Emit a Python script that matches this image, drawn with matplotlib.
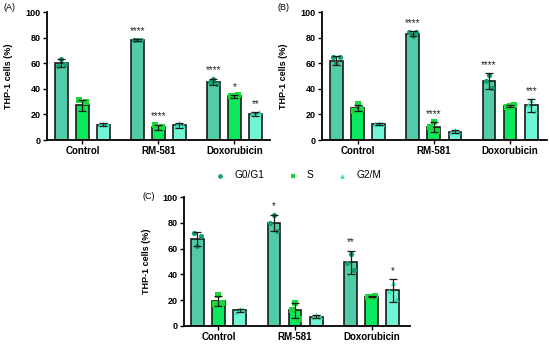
import matplotlib
matplotlib.use('Agg')
import matplotlib.pyplot as plt
import numpy as np

plt.rcParams['font.family'] = ['Liberation Sans', 'DejaVu Sans']

groups = ['Control', 'RM-581', 'Doxorubicin']
phases = ['G0/G1', 'S', 'G2/M']
yticks = [0, 20, 40, 60, 80, 100]

# rows = phase (G0/G1, S, G2/M); columns = group (Control, RM-581, Doxorubicin)
a_mean = [[60, 78, 45.5], [27, 10, 34], [12, 11.5, 20]]
a_err = [[3, 1, 2.5], [4, 2, 1], [1, 2, 1.5]]
a_pts = [[[58, 63, 59], [78, 78.5, 78.5], [45, 47.5, 44]],
         [[31, 24, 30], [12, 9, 10], [34, 34, 35]],
         [[12.5, 12.5, 12.5], [11, 13, 11], [21, 20, 21.5]]]
a_sig = [['', '****', '****'], ['', '****', '*'], ['', '', '**']]

b_mean = [[62, 83, 46], [25, 10, 26.5], [12.5, 6.5, 27]]
b_err = [[3.5, 2, 6], [2.5, 4, 1], [0.8, 1, 5]]
b_pts = [[[65, 60, 65], [84, 81, 84], [46, 51, 41]],
         [[23, 28, 24], [10, 14, 7], [26, 26.5, 27.5]],
         [[12.5, 13, 12.5], [6, 8, 6], [27, 31, 23]]]
b_sig = [['', '****', '****'], ['', '****', ''], ['', '', '***']]

c_mean = [[67.5, 80, 49.5], [19.5, 12, 22.5], [12, 7, 27.5]]
c_err = [[5.5, 6.5, 9], [4, 6, 0.5], [1, 1, 9]]
c_pts = [[[72, 62, 70], [80, 86, 74], [49, 56, 43]],
         [[17, 24, 18], [12, 18, 5], [22.5, 22.5, 23]],
         [[11, 13, 12], [6.5, 8, 6.5], [27, 33, 21]]]
c_sig = [['', '*', '**'], ['', '', ''], ['', '', '*']]

bar_colors = ['#52CCA8', '#0AE85E', '#70F5D5']
pt_colors = ['#139E6E', '#17D93A', '#3ADDB4']
markers = ['o', 's', '^']
offsets = [-0.276, 0.0, 0.276]
width = 0.167
jit = np.array([-0.045, 0.0, 0.045])
edge = '#1a1a1a'

W, H = 550, 346
fig = plt.figure(figsize=(5.5, 3.46), dpi=100)


def make_ax(left, right, top, bottom):
    return fig.add_axes([left / W, 1 - bottom / H, (right - left) / W, (bottom - top) / H])


def panel(ax, mean, err, pts, sig, xlim, lab_off):
    x = np.arange(len(groups))
    for i, ph in enumerate(phases):
        xi = x + offsets[i]
        ax.bar(xi, mean[i], width, color=bar_colors[i], edgecolor=edge, linewidth=1.2, zorder=2)
        for g in range(len(groups)):
            ax.scatter(xi[g] + jit, pts[i][g], s=14, marker=markers[i], color=pt_colors[i],
                       linewidths=0, zorder=3, label=ph if g == 0 else None)
            if sig[i][g]:
                ax.text(xi[g], mean[i][g] + err[i][g] + 2.5, sig[i][g], ha='center', va='bottom',
                        fontsize=7, color='#222222')
        ax.errorbar(xi, mean[i], yerr=err[i], fmt='none', ecolor=edge, elinewidth=0.9,
                    capsize=2.8, capthick=0.9, zorder=4)
    ax.set_xlim(*xlim)
    ax.set_ylim(0, 100)
    ax.set_yticks(yticks)
    ax.set_yticklabels([str(v) for v in yticks], fontsize=6.5, fontweight='bold')
    ax.set_xticks(x)
    ax.set_xticklabels(groups, fontsize=7, fontweight='bold')
    for s in ['top', 'right']:
        ax.spines[s].set_visible(False)
    for s in ['left', 'bottom']:
        ax.spines[s].set_linewidth(1.3)
    ax.tick_params(axis='both', direction='out', length=3, width=1, pad=1.5)
    ax.set_ylabel('THP-1 cells (%)', fontsize=6.5, fontweight='bold')
    ax.yaxis.set_label_coords(lab_off, 0.5)


axA = make_ax(46.7, 270, 12, 140)
panel(axA, a_mean, a_err, a_pts, a_sig, (-0.47, 2.47), -34 / 223)
axB = make_ax(321.7, 546.7, 12, 140)
panel(axB, b_mean, b_err, b_pts, b_sig, (-0.47, 2.48), -34 / 225)
axC = make_ax(184, 410, 197.3, 325.7)
panel(axC, c_mean, c_err, c_pts, c_sig, (-0.45, 2.5), -33 / 226)

fig.text(9 / W, 1 - 8 / H, '(A)', fontsize=6.5, ha='center', va='center')
fig.text(284 / W, 1 - 8 / H, '(B)', fontsize=6.5, ha='center', va='center')
fig.text(149 / W, 1 - 196 / H, '(C)', fontsize=6.5, ha='center', va='center')

handles, labels = axC.get_legend_handles_labels()
fig.legend(handles, labels, loc='center', bbox_to_anchor=(298 / W, 1 - 175.5 / H), ncol=3,
           frameon=False, fontsize=7.3, markerscale=0.9, handletextpad=0.9, columnspacing=2.3,
           handlelength=1.0, borderpad=0)

fig.savefig('out.png', dpi=100, facecolor='white')
